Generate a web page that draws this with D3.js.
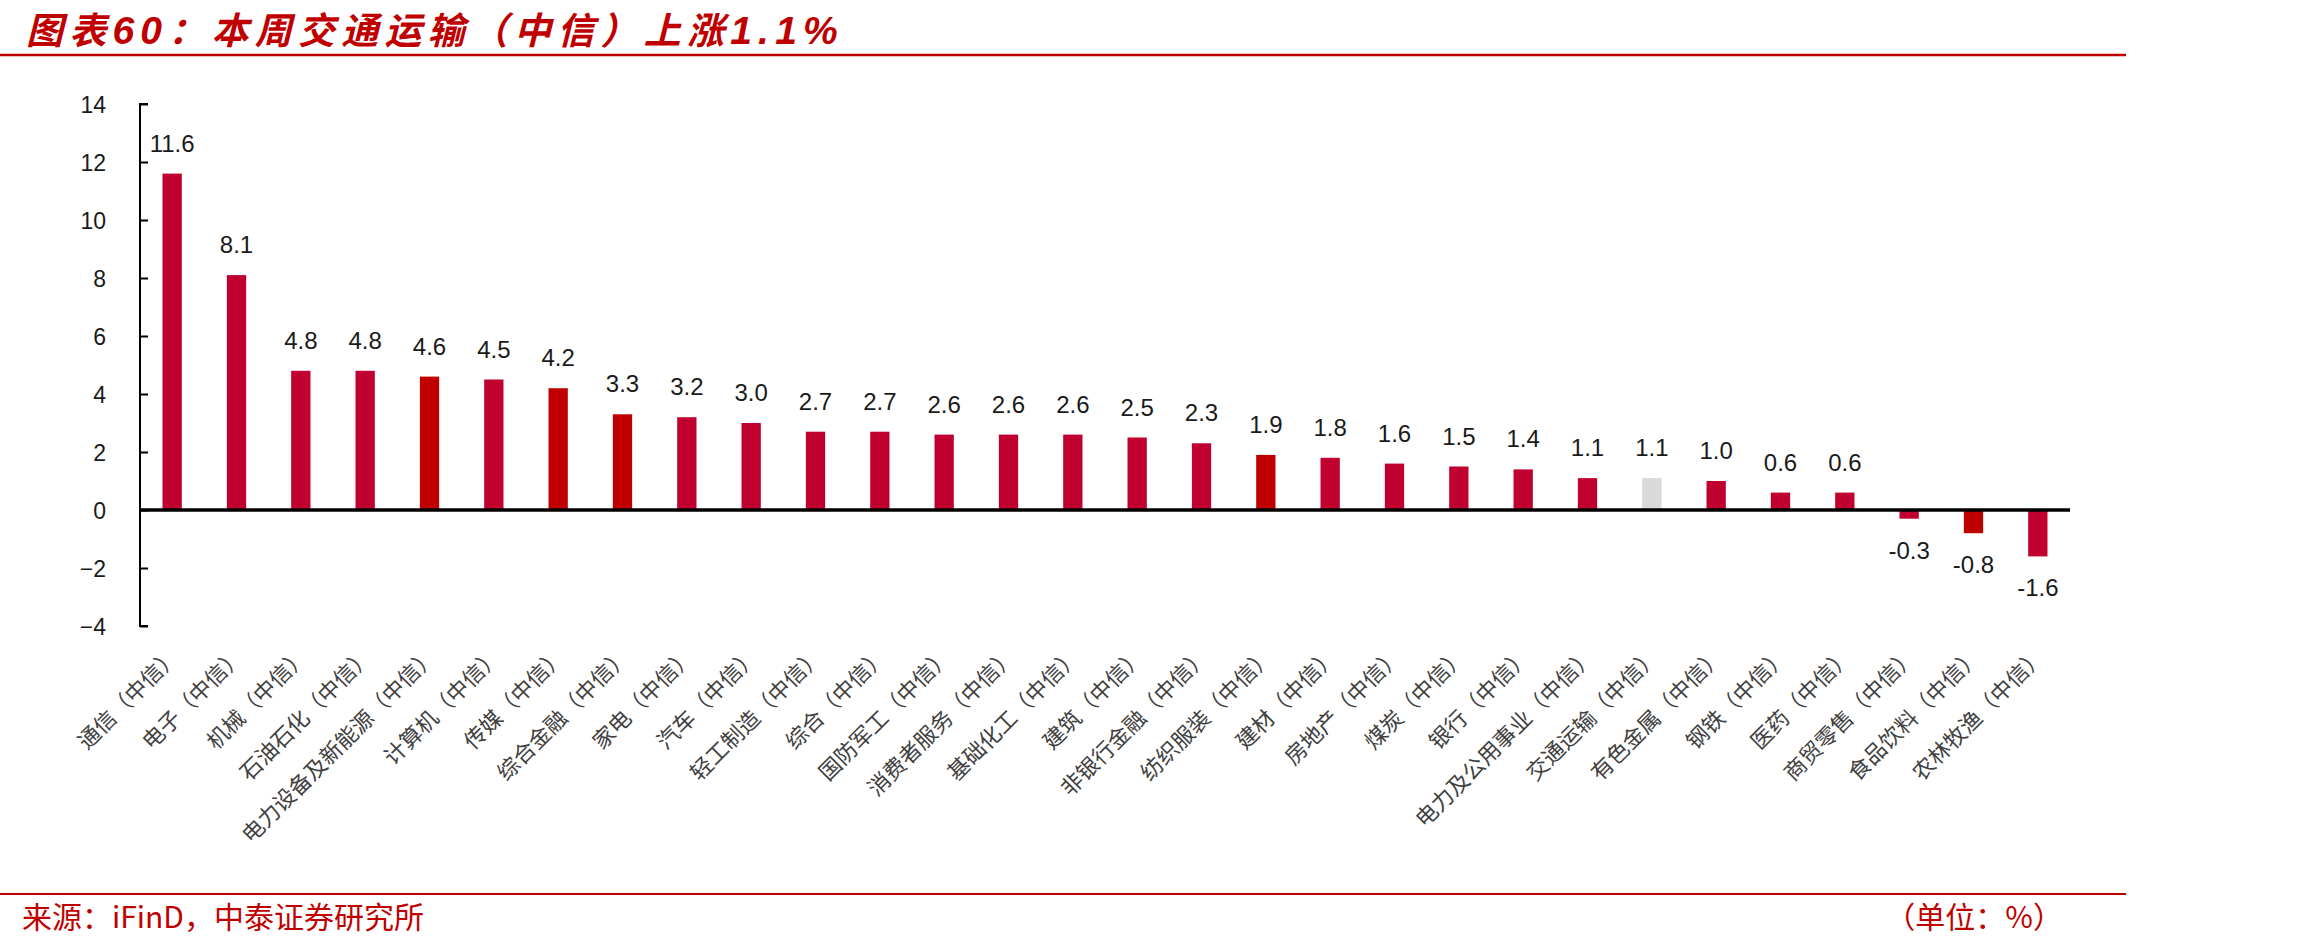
<!DOCTYPE html>
<html>
<head>
<meta charset="utf-8">
<script src="https://cdn.jsdelivr.net/npm/d3@7"></script>
<style>
  html, body { margin: 0; padding: 0; background: #fff; }
  svg { display: block; }
</style>
</head>
<body>
<div id="chart"></div>
<script>
// sector names and weekly change (%)
const sectors = ["通信", "电子", "机械", "石油石化", "电力设备及新能源", "计算机", "传媒", "综合金融", "家电", "汽车",
  "轻工制造", "综合", "国防军工", "消费者服务", "基础化工", "建筑", "非银行金融", "纺织服装", "建材", "房地产",
  "煤炭", "银行", "电力及公用事业", "交通运输", "有色金属", "钢铁", "医药", "商贸零售", "食品饮料", "农林牧渔"]
const changes = [11.6, 8.1, 4.8, 4.8, 4.6, 4.5, 4.2, 3.3, 3.2, 3.0,
  2.7, 2.7, 2.6, 2.6, 2.6, 2.5, 2.3, 1.9, 1.8, 1.6,
  1.5, 1.4, 1.1, 1.1, 1.0, 0.6, 0.6, -0.3, -0.8, -1.6]
// bars drawn in the brighter red in the original
const brightRed = ["电力设备及新能源", "传媒", "综合金融", "纺织服装", "食品饮料"]
const highlight = "交通运输"
const yTicks = [-4, -2, 0, 2, 4, 6, 8, 10, 12, 14]

const W = 2302, H = 947
const red = "#c00000"

const svg = d3.select("#chart").append("svg")
  .attr("width", W)
  .attr("height", H)
  .style("background", "#fff")

const x = d3.scaleBand()
  .domain(sectors)
  .range([140, 2070])
  .paddingInner(0.7)
  .paddingOuter(0.35)

const y = d3.scaleLinear()
  .domain([-4, 14])
  .range([626, 104])

// title: CJK parts plus latin digits, spread to the original width
const titleParts = [
  {t: "图表", latin: false},
  {t: "60", latin: true},
  {t: "：本周交通运输（中信）上涨", latin: false},
  {t: "1.1%", latin: true}
]
const title = svg.append("text")
  .attr("x", 26)
  .attr("y", 44)
  .style("font-family", "'Noto Sans CJK SC'")
  .style("font-size", "37px")
  .style("font-weight", "bold")
  .style("font-style", "italic")
  .style("fill", red)
title.selectAll("tspan")
  .data(titleParts)
  .enter()
  .append("tspan")
    .style("font-family", d => d.latin ? "'Liberation Sans', Arial, sans-serif" : null)
    .style("font-size", d => d.latin ? "39px" : null)
    .text(d => d.t)
const tLen = title.node().getComputedTextLength()
const tChars = titleParts.map(d => d.t).join("").length
title.style("letter-spacing", Math.max(0, (818 - tLen) / tChars) + "px")

svg.append("line")
  .attr("x1", 0).attr("x2", 2126)
  .attr("y1", 55).attr("y2", 55)
  .style("stroke", red)
  .style("stroke-width", 2.5)

// y axis
const yAxis = svg.append("g")
  .attr("transform", "translate(140,0)")
  .call(d3.axisRight(y).tickValues(yTicks).tickSize(8).tickFormat(d3.format("d")))

yAxis.select(".domain")
  .attr("d", `M8,${y(14)}H0V${y(-4)}H8`)
  .style("stroke", "#000")
  .style("stroke-width", 2)
yAxis.selectAll(".tick line").style("stroke", "#000").style("stroke-width", 2)
yAxis.selectAll(".tick text")
  .attr("x", -34)
  .attr("dy", "0.35em")
  .style("text-anchor", "end")
  .style("font-family", "'Liberation Sans', Arial, sans-serif")
  .style("font-size", "23px")
  .style("fill", "#1a1a1a")

// bars
svg.selectAll("rect.bar")
  .data(sectors)
  .enter()
  .append("rect")
    .attr("class", "bar")
    .attr("x", d => x(d))
    .attr("width", x.bandwidth())
    .attr("y", (d, i) => y(Math.max(0, changes[i])))
    .attr("height", (d, i) => Math.abs(y(changes[i]) - y(0)))
    .style("fill", d => d === highlight ? "#d9d9d9" : (brightRed.includes(d) ? "#c00000" : "#c0002f"))

// zero line
svg.append("line")
  .attr("x1", 140).attr("x2", 2070)
  .attr("y1", y(0)).attr("y2", y(0))
  .style("stroke", "#000")
  .style("stroke-width", 3.5)

// value labels
svg.selectAll("text.val")
  .data(sectors)
  .enter()
  .append("text")
    .attr("class", "val")
    .attr("x", d => x(d) + x.bandwidth() / 2)
    .attr("y", (d, i) => changes[i] >= 0 ? y(changes[i]) - 22 : y(changes[i]) + 40)
    .style("text-anchor", "middle")
    .style("font-family", "'Liberation Sans', Arial, sans-serif")
    .style("font-size", "24px")
    .style("fill", "#1a1a1a")
    .text((d, i) => changes[i].toFixed(1))

// category labels, rotated
svg.selectAll("text.cat")
  .data(sectors)
  .enter()
  .append("text")
    .attr("class", "cat")
    .attr("transform", d => `translate(${x(d) + x.bandwidth() / 2 + 3},652) rotate(-45)`)
    .attr("dy", "0.35em")
    .style("text-anchor", "end")
    .style("font-family", "'Noto Sans CJK SC'")
    .style("font-size", "22px")
    .style("fill", "#404040")
    .text(d => d + "（中信）")

// footer
svg.append("line")
  .attr("x1", 0).attr("x2", 2126)
  .attr("y1", 894).attr("y2", 894)
  .style("stroke", red)
  .style("stroke-width", 2)

svg.append("text")
  .attr("x", 22)
  .attr("y", 928)
  .style("font-family", "'Noto Sans CJK SC'")
  .style("font-size", "30px")
  .style("fill", red)
  .text("来源：iFinD，中泰证券研究所")

svg.append("text")
  .attr("x", 2063)
  .attr("y", 928)
  .style("text-anchor", "end")
  .style("font-family", "'Noto Sans CJK SC'")
  .style("font-size", "30px")
  .style("fill", red)
  .text("（单位：%）")
</script>
</body>
</html>
